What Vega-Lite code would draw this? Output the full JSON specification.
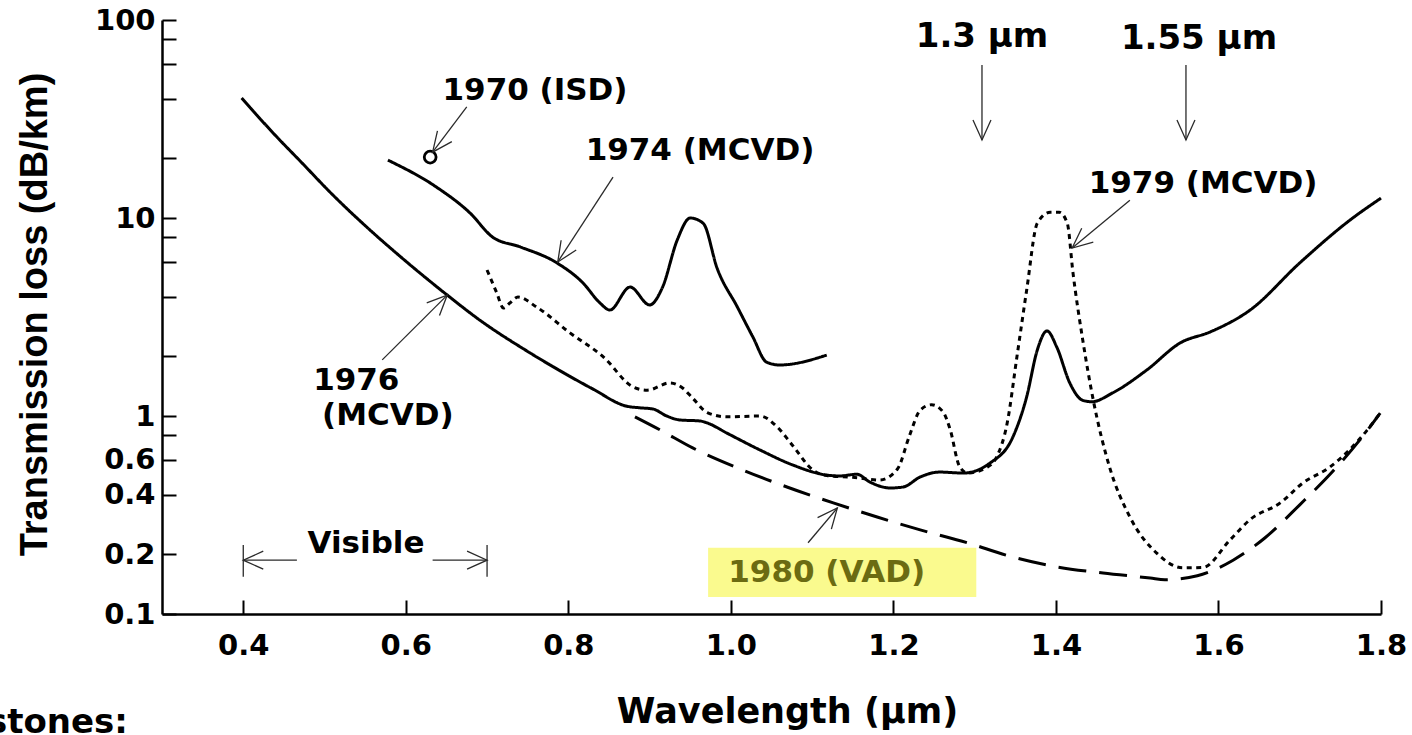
{
  "$schema": "https://vega.github.io/schema/vega-lite/v6.json",
  "autosize": {"type": "none"},
  "width": 1219,
  "height": 594,
  "padding": {"left": 162, "top": 20, "right": 31, "bottom": 121},
  "background": "white",
  "config": {"view": {"stroke": null}},
  "datasets": {
    "curves": [
      {"series": "1976 (MCVD)", "wl": 0.398, "loss": 40.4},
      {"series": "1976 (MCVD)", "wl": 0.44, "loss": 26.0},
      {"series": "1976 (MCVD)", "wl": 0.47, "loss": 19.4},
      {"series": "1976 (MCVD)", "wl": 0.51, "loss": 13.1},
      {"series": "1976 (MCVD)", "wl": 0.556, "loss": 8.69},
      {"series": "1976 (MCVD)", "wl": 0.593, "loss": 6.4},
      {"series": "1976 (MCVD)", "wl": 0.651, "loss": 4.08},
      {"series": "1976 (MCVD)", "wl": 0.691, "loss": 3.05},
      {"series": "1976 (MCVD)", "wl": 0.749, "loss": 2.13},
      {"series": "1976 (MCVD)", "wl": 0.79, "loss": 1.69},
      {"series": "1976 (MCVD)", "wl": 0.83, "loss": 1.37},
      {"series": "1976 (MCVD)", "wl": 0.872, "loss": 1.12},
      {"series": "1976 (MCVD)", "wl": 0.888, "loss": 1.1},
      {"series": "1976 (MCVD)", "wl": 0.904, "loss": 1.085},
      {"series": "1976 (MCVD)", "wl": 0.921, "loss": 1.0},
      {"series": "1976 (MCVD)", "wl": 0.937, "loss": 0.955},
      {"series": "1976 (MCVD)", "wl": 0.962, "loss": 0.944},
      {"series": "1976 (MCVD)", "wl": 0.971, "loss": 0.922},
      {"series": "1976 (MCVD)", "wl": 0.995, "loss": 0.82},
      {"series": "1976 (MCVD)", "wl": 1.036, "loss": 0.673},
      {"series": "1976 (MCVD)", "wl": 1.076, "loss": 0.566},
      {"series": "1976 (MCVD)", "wl": 1.118, "loss": 0.503},
      {"series": "1976 (MCVD)", "wl": 1.134, "loss": 0.498},
      {"series": "1976 (MCVD)", "wl": 1.155, "loss": 0.508},
      {"series": "1976 (MCVD)", "wl": 1.171, "loss": 0.464},
      {"series": "1976 (MCVD)", "wl": 1.196, "loss": 0.433},
      {"series": "1976 (MCVD)", "wl": 1.212, "loss": 0.438},
      {"series": "1976 (MCVD)", "wl": 1.233, "loss": 0.492},
      {"series": "1976 (MCVD)", "wl": 1.257, "loss": 0.521},
      {"series": "1976 (MCVD)", "wl": 1.286, "loss": 0.515},
      {"series": "1976 (MCVD)", "wl": 1.319, "loss": 0.579},
      {"series": "1976 (MCVD)", "wl": 1.347, "loss": 0.783},
      {"series": "1976 (MCVD)", "wl": 1.364, "loss": 1.25},
      {"series": "1976 (MCVD)", "wl": 1.377, "loss": 2.15},
      {"series": "1976 (MCVD)", "wl": 1.389, "loss": 2.69},
      {"series": "1976 (MCVD)", "wl": 1.401, "loss": 2.23},
      {"series": "1976 (MCVD)", "wl": 1.417, "loss": 1.47},
      {"series": "1976 (MCVD)", "wl": 1.433, "loss": 1.2},
      {"series": "1976 (MCVD)", "wl": 1.444, "loss": 1.18},
      {"series": "1976 (MCVD)", "wl": 1.47, "loss": 1.31},
      {"series": "1976 (MCVD)", "wl": 1.512, "loss": 1.71},
      {"series": "1976 (MCVD)", "wl": 1.553, "loss": 2.34},
      {"series": "1976 (MCVD)", "wl": 1.59, "loss": 2.66},
      {"series": "1976 (MCVD)", "wl": 1.639, "loss": 3.43},
      {"series": "1976 (MCVD)", "wl": 1.7, "loss": 5.93},
      {"series": "1976 (MCVD)", "wl": 1.762, "loss": 9.77},
      {"series": "1976 (MCVD)", "wl": 1.8, "loss": 12.6},

      {"series": "1974 (MCVD)", "wl": 0.578, "loss": 19.6},
      {"series": "1974 (MCVD)", "wl": 0.638, "loss": 14.3},
      {"series": "1974 (MCVD)", "wl": 0.679, "loss": 10.6},
      {"series": "1974 (MCVD)", "wl": 0.707, "loss": 8.0},
      {"series": "1974 (MCVD)", "wl": 0.741, "loss": 7.14},
      {"series": "1974 (MCVD)", "wl": 0.786, "loss": 5.93},
      {"series": "1974 (MCVD)", "wl": 0.818, "loss": 4.7},
      {"series": "1974 (MCVD)", "wl": 0.839, "loss": 3.72},
      {"series": "1974 (MCVD)", "wl": 0.851, "loss": 3.43},
      {"series": "1974 (MCVD)", "wl": 0.876, "loss": 4.48},
      {"series": "1974 (MCVD)", "wl": 0.9, "loss": 3.64},
      {"series": "1974 (MCVD)", "wl": 0.916, "loss": 4.48},
      {"series": "1974 (MCVD)", "wl": 0.934, "loss": 7.74},
      {"series": "1974 (MCVD)", "wl": 0.95, "loss": 10.0},
      {"series": "1974 (MCVD)", "wl": 0.966, "loss": 9.4},
      {"series": "1974 (MCVD)", "wl": 0.983, "loss": 5.59},
      {"series": "1974 (MCVD)", "wl": 1.008, "loss": 3.55},
      {"series": "1974 (MCVD)", "wl": 1.027, "loss": 2.51},
      {"series": "1974 (MCVD)", "wl": 1.044, "loss": 1.87},
      {"series": "1974 (MCVD)", "wl": 1.06, "loss": 1.81},
      {"series": "1974 (MCVD)", "wl": 1.118, "loss": 2.03},

      {"series": "1979 (MCVD)", "wl": 0.7, "loss": 5.46},
      {"series": "1979 (MCVD)", "wl": 0.712, "loss": 4.18},
      {"series": "1979 (MCVD)", "wl": 0.72, "loss": 3.51},
      {"series": "1979 (MCVD)", "wl": 0.728, "loss": 3.72},
      {"series": "1979 (MCVD)", "wl": 0.738, "loss": 3.99},
      {"series": "1979 (MCVD)", "wl": 0.761, "loss": 3.55},
      {"series": "1979 (MCVD)", "wl": 0.802, "loss": 2.63},
      {"series": "1979 (MCVD)", "wl": 0.843, "loss": 1.99},
      {"series": "1979 (MCVD)", "wl": 0.88, "loss": 1.4},
      {"series": "1979 (MCVD)", "wl": 0.897, "loss": 1.35},
      {"series": "1979 (MCVD)", "wl": 0.925, "loss": 1.47},
      {"series": "1979 (MCVD)", "wl": 0.941, "loss": 1.38},
      {"series": "1979 (MCVD)", "wl": 0.953, "loss": 1.23},
      {"series": "1979 (MCVD)", "wl": 0.971, "loss": 1.04},
      {"series": "1979 (MCVD)", "wl": 0.995, "loss": 0.99},
      {"series": "1979 (MCVD)", "wl": 1.036, "loss": 1.0},
      {"series": "1979 (MCVD)", "wl": 1.057, "loss": 0.88},
      {"series": "1979 (MCVD)", "wl": 1.076, "loss": 0.71},
      {"series": "1979 (MCVD)", "wl": 1.101, "loss": 0.533},
      {"series": "1979 (MCVD)", "wl": 1.118, "loss": 0.5},
      {"series": "1979 (MCVD)", "wl": 1.15, "loss": 0.49},
      {"series": "1979 (MCVD)", "wl": 1.183, "loss": 0.475},
      {"series": "1979 (MCVD)", "wl": 1.205, "loss": 0.54},
      {"series": "1979 (MCVD)", "wl": 1.22, "loss": 0.8},
      {"series": "1979 (MCVD)", "wl": 1.233, "loss": 1.07},
      {"series": "1979 (MCVD)", "wl": 1.247, "loss": 1.14},
      {"series": "1979 (MCVD)", "wl": 1.261, "loss": 1.05},
      {"series": "1979 (MCVD)", "wl": 1.27, "loss": 0.85},
      {"series": "1979 (MCVD)", "wl": 1.281, "loss": 0.56},
      {"series": "1979 (MCVD)", "wl": 1.291, "loss": 0.515},
      {"series": "1979 (MCVD)", "wl": 1.315, "loss": 0.55},
      {"series": "1979 (MCVD)", "wl": 1.327, "loss": 0.62},
      {"series": "1979 (MCVD)", "wl": 1.34, "loss": 0.92},
      {"series": "1979 (MCVD)", "wl": 1.352, "loss": 1.99},
      {"series": "1979 (MCVD)", "wl": 1.364, "loss": 4.33},
      {"series": "1979 (MCVD)", "wl": 1.377, "loss": 9.4},
      {"series": "1979 (MCVD)", "wl": 1.393, "loss": 10.7},
      {"series": "1979 (MCVD)", "wl": 1.404, "loss": 10.7},
      {"series": "1979 (MCVD)", "wl": 1.414, "loss": 9.4},
      {"series": "1979 (MCVD)", "wl": 1.421, "loss": 5.28},
      {"series": "1979 (MCVD)", "wl": 1.433, "loss": 2.42},
      {"series": "1979 (MCVD)", "wl": 1.446, "loss": 1.2},
      {"series": "1979 (MCVD)", "wl": 1.466, "loss": 0.552},
      {"series": "1979 (MCVD)", "wl": 1.491, "loss": 0.309},
      {"series": "1979 (MCVD)", "wl": 1.524, "loss": 0.203},
      {"series": "1979 (MCVD)", "wl": 1.556, "loss": 0.171},
      {"series": "1979 (MCVD)", "wl": 1.581, "loss": 0.172},
      {"series": "1979 (MCVD)", "wl": 1.614, "loss": 0.236},
      {"series": "1979 (MCVD)", "wl": 1.639, "loss": 0.3},
      {"series": "1979 (MCVD)", "wl": 1.676, "loss": 0.364},
      {"series": "1979 (MCVD)", "wl": 1.704, "loss": 0.459},
      {"series": "1979 (MCVD)", "wl": 1.737, "loss": 0.552},
      {"series": "1979 (MCVD)", "wl": 1.761, "loss": 0.673},
      {"series": "1979 (MCVD)", "wl": 1.783, "loss": 0.849},
      {"series": "1979 (MCVD)", "wl": 1.799, "loss": 1.035},

      {"series": "1980 (VAD)", "wl": 0.882, "loss": 0.99},
      {"series": "1980 (VAD)", "wl": 0.913, "loss": 0.85},
      {"series": "1980 (VAD)", "wl": 0.953, "loss": 0.69},
      {"series": "1980 (VAD)", "wl": 1.015, "loss": 0.533},
      {"series": "1980 (VAD)", "wl": 1.069, "loss": 0.438},
      {"series": "1980 (VAD)", "wl": 1.126, "loss": 0.364},
      {"series": "1980 (VAD)", "wl": 1.18, "loss": 0.309},
      {"series": "1980 (VAD)", "wl": 1.233, "loss": 0.266},
      {"series": "1980 (VAD)", "wl": 1.291, "loss": 0.229},
      {"series": "1980 (VAD)", "wl": 1.343, "loss": 0.196},
      {"series": "1980 (VAD)", "wl": 1.401, "loss": 0.173},
      {"series": "1980 (VAD)", "wl": 1.458, "loss": 0.161},
      {"series": "1980 (VAD)", "wl": 1.516, "loss": 0.152},
      {"series": "1980 (VAD)", "wl": 1.534, "loss": 0.149},
      {"series": "1980 (VAD)", "wl": 1.574, "loss": 0.156},
      {"series": "1980 (VAD)", "wl": 1.618, "loss": 0.187},
      {"series": "1980 (VAD)", "wl": 1.657, "loss": 0.242},
      {"series": "1980 (VAD)", "wl": 1.7, "loss": 0.356},
      {"series": "1980 (VAD)", "wl": 1.741, "loss": 0.527},
      {"series": "1980 (VAD)", "wl": 1.774, "loss": 0.757},
      {"series": "1980 (VAD)", "wl": 1.799, "loss": 1.035}
    ],
    "arrows": [
      {"id": "1970", "wl": 0.633, "loss": 21.5, "wl2": 0.675, "loss2": 36.4},
      {"id": "1974", "wl": 0.787, "loss": 6.0, "wl2": 0.855, "loss2": 16.1},
      {"id": "1976", "wl": 0.651, "loss": 4.08, "wl2": 0.571, "loss2": 1.92},
      {"id": "1979", "wl": 1.42, "loss": 7.05, "wl2": 1.491, "loss2": 12.3},
      {"id": "1980", "wl": 1.131, "loss": 0.343, "wl2": 1.095, "loss2": 0.229},
      {"id": "1.3", "wl": 1.309, "loss": 24.8, "wl2": 1.309, "loss2": 59.3},
      {"id": "1.55", "wl": 1.56, "loss": 24.8, "wl2": 1.56, "loss2": 59.3},
      {"id": "visL", "wl": 0.4, "loss": 0.187, "wl2": 0.466, "loss2": 0.187},
      {"id": "visR", "wl": 0.7, "loss": 0.187, "wl2": 0.633, "loss2": 0.187}
    ],
    "bars": [
      {"wl": 0.4, "loss": 0.223, "wl2": 0.4, "loss2": 0.154},
      {"wl": 0.7, "loss": 0.223, "wl2": 0.7, "loss2": 0.154}
    ]
  },
  "encoding": {
    "x": {
      "field": "wl", "type": "quantitative",
      "scale": {"domain": [0.3, 1.8], "nice": false, "zero": false},
      "axis": {
        "values": [0.4, 0.6, 0.8, 1.0, 1.2, 1.4, 1.6, 1.8], "format": ".1f", "grid": false,
        "title": "Wavelength (µm)", "titleFont": "DejaVu Sans", "titleFontSize": 35, "titleFontWeight": "bold", "titleColor": "black",
        "titleX": 625, "titleY": 108, "titleAlign": "center", "titleBaseline": "alphabetic",
        "labelFont": "DejaVu Sans", "labelFontSize": 29, "labelFontWeight": "bold", "labelColor": "black",
        "labelPadding": 31, "labelOverlap": false, "labelFlush": false,
        "tickSize": -14, "tickWidth": 2, "tickColor": "black", "domainColor": "black", "domainWidth": 2.5
      }
    },
    "y": {
      "field": "loss", "type": "quantitative",
      "scale": {"type": "log", "domain": [0.1, 100], "nice": false},
      "axis": {
        "values": [100, 80, 60, 40, 20, 10, 8, 6, 4, 2, 1, 0.8, 0.6, 0.4, 0.2, 0.1],
        "labelExpr": "indexof([100, 10, 1, 0.6, 0.4, 0.2, 0.1], datum.value) >= 0 ? format(datum.value, '~g') : ''",
        "grid": false,
        "title": "Transmission loss (dB/km)", "titleFont": "Liberation Sans", "titleFontSize": 38, "titleFontWeight": "bold", "titleColor": "black",
        "titleAngle": -90, "titleX": -116, "titleY": 294, "titleAlign": "center", "titleBaseline": "alphabetic",
        "labelFont": "DejaVu Sans", "labelFontSize": 29, "labelFontWeight": "bold", "labelColor": "black",
        "labelAlign": "right", "labelBaseline": "middle", "labelPadding": 21, "labelOverlap": false, "labelFlush": false,
        "tickSize": -14, "tickWidth": 2, "tickColor": "black", "domainColor": "black", "domainWidth": 2.5
      }
    }
  },
  "layer": [
    {
      "data": {"values": [{"wl": 0.972, "loss": 0.216, "wl2": 1.302, "loss2": 0.122}]},
      "mark": {"type": "rect", "color": "#fafa8e"},
      "encoding": {"x2": {"field": "wl2"}, "y2": {"field": "loss2"}}
    },
    {
      "data": {"name": "curves"},
      "mark": {"type": "line", "interpolate": "monotone", "strokeWidth": 3, "color": "black", "strokeCap": "butt"},
      "encoding": {
        "strokeDash": {
          "field": "series", "type": "nominal",
          "scale": {"domain": ["1974 (MCVD)", "1976 (MCVD)", "1979 (MCVD)", "1980 (VAD)"], "range": [[1, 0], [1, 0], [5, 4.5], [28, 13]]},
          "legend": null
        }
      }
    },
    {
      "data": {"values": [{"wl": 0.63, "loss": 20.3}]},
      "mark": {"type": "point", "shape": "circle", "filled": false, "size": 140, "strokeWidth": 2.8, "color": "black", "opacity": 1}
    },
    {
      "data": {"name": "arrows"},
      "mark": {"type": "rule", "color": "#2a2a2a", "strokeWidth": 1.3},
      "encoding": {"x2": {"field": "wl2"}, "y2": {"field": "loss2"}}
    },
    {
      "data": {"name": "bars"},
      "mark": {"type": "rule", "color": "#2a2a2a", "strokeWidth": 1.3},
      "encoding": {"x2": {"field": "wl2"}, "y2": {"field": "loss2"}}
    },
    {
      "data": {"name": "arrows"},
      "mark": {"type": "point", "shape": "M -1 -0.45 L 0 0 L -1 0.45", "filled": false, "size": 1600, "strokeWidth": 1.3, "color": "#2a2a2a", "opacity": 1},
      "encoding": {
        "angle": {
          "field": "id", "type": "nominal",
          "scale": {"type": "ordinal", "domain": ["1970", "1974", "1976", "1979", "1980", "1.3", "1.55", "visL", "visR"], "range": [127, 123, -45, 140, -50, 90, 90, 180, 0]},
          "legend": null
        }
      }
    },
    {
      "data": {"values": [
        {"text": "1970 (ISD)", "wl": 0.759, "loss": 39.4},
        {"text": "1974 (MCVD)", "wl": 0.962, "loss": 19.6},
        {"text": "1979 (MCVD)", "wl": 1.581, "loss": 13.4},
        {"text": "Visible", "wl": 0.551, "loss": 0.203}
      ]},
      "mark": {"type": "text", "font": "DejaVu Sans", "fontWeight": "bold", "fontSize": 31, "align": "center", "baseline": "alphabetic", "color": "black"},
      "encoding": {"text": {"field": "text", "type": "nominal"}}
    },
    {
      "data": {"values": [
        {"text": "1976", "wl": 0.486, "loss": 1.35},
        {"text": "(MCVD)", "wl": 0.497, "loss": 0.9}
      ]},
      "mark": {"type": "text", "font": "DejaVu Sans", "fontWeight": "bold", "fontSize": 31, "align": "left", "baseline": "alphabetic", "color": "black"},
      "encoding": {"text": {"field": "text", "type": "nominal"}}
    },
    {
      "data": {"values": [{"text": "1980 (VAD)", "wl": 1.118, "loss": 0.145}]},
      "mark": {"type": "text", "font": "DejaVu Sans", "fontWeight": "bold", "fontSize": 31, "align": "center", "baseline": "alphabetic", "color": "#6b6b12"},
      "encoding": {"text": {"field": "text", "type": "nominal"}}
    },
    {
      "data": {"values": [
        {"text": "1.3 µm", "wl": 1.309, "loss": 73.1},
        {"text": "1.55 µm", "wl": 1.576, "loss": 71.5}
      ]},
      "mark": {"type": "text", "font": "DejaVu Sans", "fontWeight": "bold", "fontSize": 34, "align": "center", "baseline": "alphabetic", "color": "black"},
      "encoding": {"text": {"field": "text", "type": "nominal"}}
    },
    {
      "data": {"values": [{"text": "Milestones:", "wl": 0.258, "loss": 0.0251}]},
      "mark": {"type": "text", "font": "DejaVu Sans", "fontWeight": "bold", "fontSize": 34, "align": "right", "baseline": "alphabetic", "color": "black"},
      "encoding": {"text": {"field": "text", "type": "nominal"}}
    }
  ]
}
